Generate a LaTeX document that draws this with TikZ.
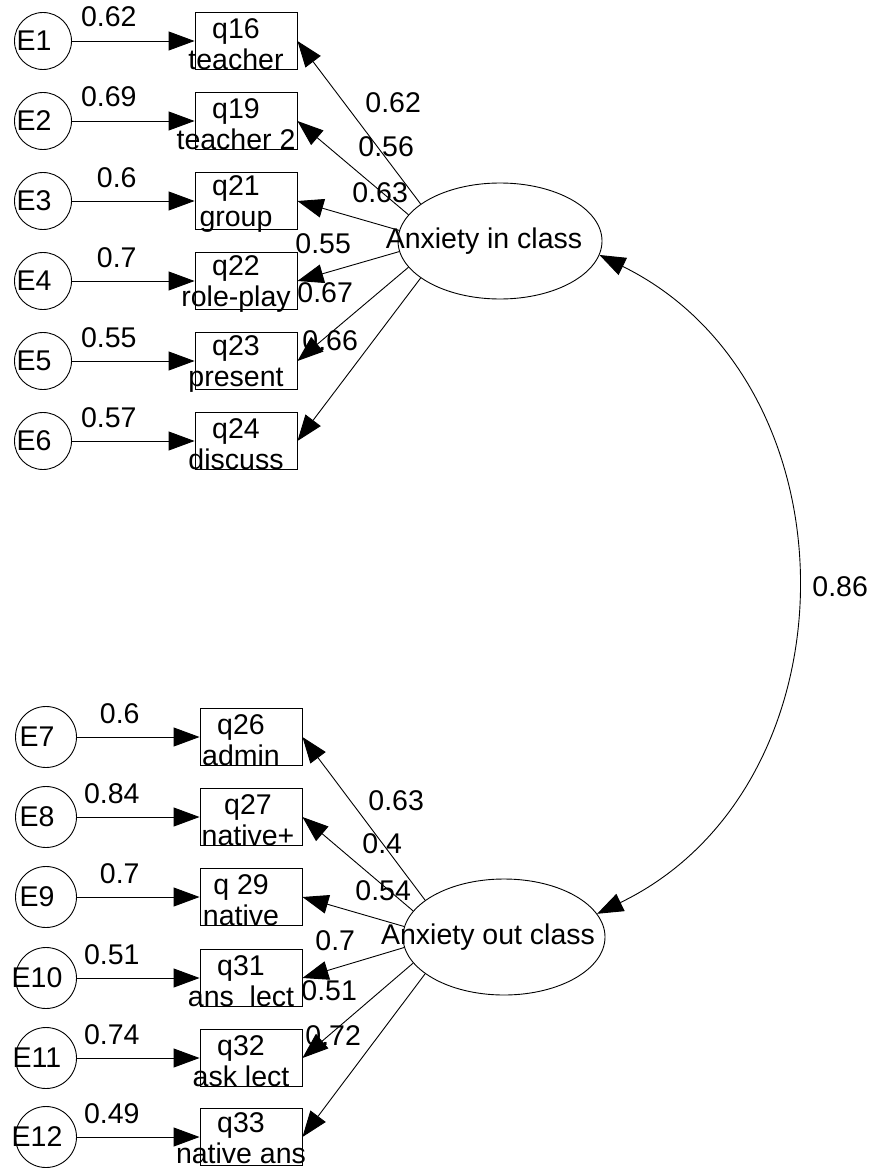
\documentclass[tikz,border=0pt]{standalone}
\usepackage{fontspec}
\setmainfont{Liberation Sans}
\usetikzlibrary{shapes.geometric,arrows.meta,positioning}

\begin{document}
\begin{tikzpicture}[
    x=1pt, y=-1pt,
    font=\fontsize{28.5}{31}\selectfont,
    line width=0.9pt,
    err/.style={circle, draw=black, minimum size=57pt, inner sep=0pt},
    errtxt/.style={inner sep=0pt, xshift=-9pt},
    obs/.style={rectangle, draw=black, minimum width=102pt, minimum height=57pt, inner sep=0pt},
    obstxt/.style={align=center, inner sep=0pt, xshift=-10pt, yshift=-3pt},
    lat/.style={ellipse, draw=black, minimum width=204pt, minimum height=116pt, inner sep=0pt},
    lattxt/.style={inner sep=0pt, xshift=-16pt},
    coef/.style={inner sep=0pt},
    arrow/.style={-{Triangle[length=26pt, width=19pt]}},
    both/.style={{Triangle[length=26pt, width=19pt]}-{Triangle[length=26pt, width=19pt]}},
]
\useasboundingbox (0,0) rectangle (883,1169);

% factors
\node[lat, label={[lattxt]center:Anxiety in class}] (anx) at (500,241) {};
\node[lat, minimum width=202pt, label={[lattxt]center:Anxiety out class}] (anxo) at (504,937) {};

% in class items
\node[obs, label={[obstxt]center:{q16\\teacher}}] (q16) at (246,41) {};
\node[obs, label={[obstxt]center:{q19\\teacher 2}}] (q19) at (246,121) {};
\node[obs, label={[obstxt]center:{q21\\group}}] (q21) at (246,201) {};
\node[obs, label={[obstxt]center:{q22\\role-play}}] (q22) at (246,281) {};
\node[obs, label={[obstxt]center:{q23\\present}}] (q23) at (246,361) {};
\node[obs, label={[obstxt]center:{q24\\discuss}}] (q24) at (246,441) {};

\node[err, label={[errtxt]center:E1}] (E1) at (43,41) {};
\node[err, label={[errtxt]center:E2}] (E2) at (43,121) {};
\node[err, label={[errtxt]center:E3}] (E3) at (43,201) {};
\node[err, label={[errtxt]center:E4}] (E4) at (43,281) {};
\node[err, label={[errtxt]center:E5}] (E5) at (43,361) {};
\node[err, label={[errtxt]center:E6}] (E6) at (43,441) {};

% out of class items
\node[obs, label={[obstxt]center:{q26\\admin}}] (q26) at (251,737) {};
\node[obs, label={[obstxt, xshift=7pt]center:{q27\\native+}}] (q27) at (251,817) {};
\node[obs, label={[obstxt]center:{q 29\\native}}] (q29) at (251,897) {};
\node[obs, label={[obstxt]center:{q31\\ans\ \ lect}}] (q31) at (251,978) {};
\node[obs, label={[obstxt]center:{q32\\ask lect}}] (q32) at (251,1058) {};
\node[obs, label={[obstxt, yshift=2pt]center:{q33\\native ans}}] (q33) at (251,1137) {};

\node[err, minimum size=61pt, label={[errtxt]center:E7}] (E7) at (46,737) {};
\node[err, minimum size=61pt, label={[errtxt]center:E8}] (E8) at (46,817) {};
\node[err, minimum size=61pt, label={[errtxt]center:E9}] (E9) at (46,897) {};
\node[err, minimum size=61pt, label={[errtxt]center:E10}] (E10) at (46,978) {};
\node[err, minimum size=61pt, label={[errtxt]center:E11}] (E11) at (46,1058) {};
\node[err, minimum size=61pt, label={[errtxt]center:E12}] (E12) at (46,1137) {};

% error paths
\draw[arrow] (E1) -- (q16);
\draw[arrow] (E2) -- (q19);
\draw[arrow] (E3) -- (q21);
\draw[arrow] (E4) -- (q22);
\draw[arrow] (E5) -- (q23);
\draw[arrow] (E6) -- (q24);
\draw[arrow] (E7) -- (q26);
\draw[arrow] (E8) -- (q27);
\draw[arrow] (E9) -- (q29);
\draw[arrow] (E10) -- (q31);
\draw[arrow] (E11) -- (q32);
\draw[arrow] (E12) -- (q33);

\node[coef, anchor=base east] (w1) at ([shift={(94,-14)}]E1.center) {0.62};
\node[coef, anchor=base east] (w2) at ([shift={(94,-14)}]E2.center) {0.69};
\node[coef, anchor=base east] (w3) at ([shift={(94,-14)}]E3.center) {0.6};
\node[coef, anchor=base east] (w4) at ([shift={(94,-14)}]E4.center) {0.7};
\node[coef, anchor=base east] (w5) at ([shift={(94,-14)}]E5.center) {0.55};
\node[coef, anchor=base east] (w6) at ([shift={(94,-14)}]E6.center) {0.57};
\node[coef, anchor=base east] (w7) at ([shift={(94,-14)}]E7.center) {0.6};
\node[coef, anchor=base east] (w8) at ([shift={(94,-14)}]E8.center) {0.84};
\node[coef, anchor=base east] (w9) at ([shift={(94,-14)}]E9.center) {0.7};
\node[coef, anchor=base east] (w10) at ([shift={(94,-14)}]E10.center) {0.51};
\node[coef, anchor=base east] (w11) at ([shift={(94,-14)}]E11.center) {0.74};
\node[coef, anchor=base east] (w12) at ([shift={(94,-14)}]E12.center) {0.49};

% loadings
\draw[arrow] (anx.155) -- (q16.east);
\draw[arrow] (anx.164) -- (q19.east);
\draw[arrow] (anx.174) -- (q21.east);
\draw[arrow] (anx.186) -- (q22.east);
\draw[arrow] (anx.196) -- (q23.east);
\draw[arrow] (anx.205) -- (q24.east);
\draw[arrow] (anxo.155) -- (q26.east);
\draw[arrow] (anxo.164) -- (q27.east);
\draw[arrow] (anxo.174) -- (q29.east);
\draw[arrow] (anxo.186) -- (q31.east);
\draw[arrow] (anxo.196) -- (q32.east);
\draw[arrow] (anxo.205) -- (q33.east);

\node[coef, anchor=base west] (l16) at (365,113) {0.62};
\node[coef, anchor=base west] (l19) at (358,157) {0.56};
\node[coef, anchor=base west] (l21) at (352,203) {0.63};
\node[coef, anchor=base west] (l22) at (295,253) {0.55};
\node[coef, anchor=base west] (l23) at (297,302) {0.67};
\node[coef, anchor=base west] (l24) at (302,350) {0.66};
\node[coef, anchor=base west] (l26) at (368,810) {0.63};
\node[coef, anchor=base west] (l27) at (362,853) {0.4};
\node[coef, anchor=base west] (l29) at (355,900) {0.54};
\node[coef, anchor=base west] (l31) at (315,950) {0.7};
\node[coef, anchor=base west] (l32) at (301,1000) {0.51};
\node[coef, anchor=base west] (l33) at (305,1045) {0.72};

% correlation
\draw[both] (anx.-8) to[bend left=64, looseness=1.13] (anxo.14);
\node[coef, anchor=base west] (r) at (812,596) {0.86};

\end{tikzpicture}
\end{document}
